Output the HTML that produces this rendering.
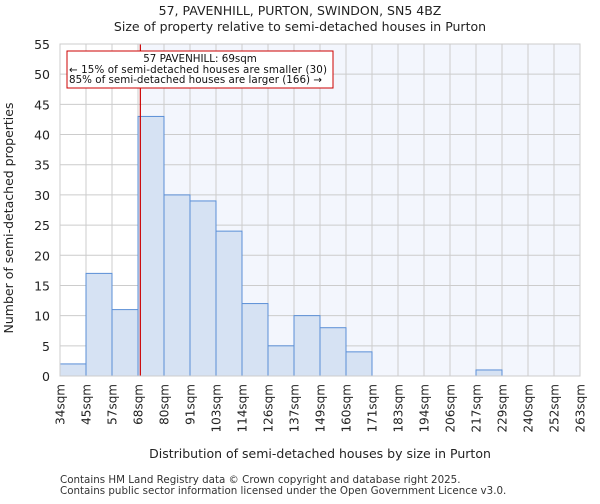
<!DOCTYPE html>
<html><head><meta charset="utf-8"><style>
body{margin:0;background:#fff;font-family:"DejaVu Sans","Liberation Sans",sans-serif}
</style></head><body>
<svg width="600" height="500" font-family="DejaVu Sans, Liberation Sans, sans-serif">
<g id="plot"></g>
</svg>
<script>
const labels=["34sqm","45sqm","57sqm","68sqm","80sqm","91sqm","103sqm","114sqm","126sqm","137sqm","149sqm","160sqm","171sqm","183sqm","194sqm","206sqm","217sqm","229sqm","240sqm","252sqm","263sqm"];
const counts=[2,17,11,43,30,29,24,12,5,10,8,4,0,0,0,0,1,0,0,0];
const yTicks=[0,5,10,15,20,25,30,35,40,45,50,55];
const propertyBin=3.09;
const L=60,R=580,T=44,B=376,yMax=55;
const bw=(R-L)/counts.length;
const x=i=>L+i*bw, y=v=>B-(v/yMax)*(B-T);
const svg=document.querySelector('svg');const NS='http://www.w3.org/2000/svg';
function mk(t,a,p){const e=document.createElementNS(NS,t);for(const k in a)e.setAttribute(k,a[k]);(p||svg).appendChild(e);return e;}
const px=x(propertyBin);
let e;
e=mk('rect',{x:px,y:T,width:R-px,height:B-T,fill:'#f3f6fd'});


yTicks.forEach(v=>{e=mk('line',{x1:L,x2:R,y1:y(v),y2:y(v),stroke:'#cccccc'});


e=mk('text',{x:L-10,y:y(v)+5,'text-anchor':'end','font-size':12.5,fill:'#222'});e.textContent=v;

});
labels.forEach((l,i)=>{e=mk('line',{x1:x(i),x2:x(i),y1:T,y2:B,stroke:'#cccccc'});


e=mk('text',{transform:`translate(${x(i)+4.5},384) rotate(-90)`,'text-anchor':'end','font-size':12,fill:'#222'});e.textContent=l;

});
counts.forEach((c,i)=>{if(!c)return;e=mk('rect',{x:x(i),y:y(c),width:bw,height:B-y(c),fill:'#d6e2f3',stroke:'#5b8fd6','stroke-width':1});

});
e=mk('line',{x1:px,x2:px,y1:T,y2:B,stroke:'#cc0000','stroke-width':1.2});


e=mk('rect',{x:67,y:51,width:266,height:37,fill:'#fff',stroke:'#cc0000'});


[["57 PAVENHILL: 69sqm",62],["← 15% of semi-detached houses are smaller (30)",73],["85% of semi-detached houses are larger (166) →",83]].forEach((t,k)=>{
e=mk('text',{x:k==0?200:69,y:t[1],'text-anchor':k==0?'middle':'start','font-size':10.3,fill:'#111',textLength:k==0?undefined:(k==1?258:253)});
if(k==0)e.removeAttribute('textLength');
e.textContent=t[0];

});
e=mk('rect',{x:L,y:T,width:R-L,height:B-T,fill:'none',stroke:'#cccccc'});


function txt(s,a,n){e=mk('text',a);e.textContent=s;}
txt("57, PAVENHILL, PURTON, SWINDON, SN5 4BZ",{x:300,y:15,'text-anchor':'middle','font-size':12.5,fill:'#222'},'chart-title');
txt("Size of property relative to semi-detached houses in Purton",{x:300,y:31,'text-anchor':'middle','font-size':12.5,fill:'#222'},'chart-subtitle');
txt("Distribution of semi-detached houses by size in Purton",{x:320,y:458,'text-anchor':'middle','font-size':12.5,fill:'#222'},'x-axis-title');
txt("Number of semi-detached properties",{transform:'translate(13,218) rotate(-90)','text-anchor':'middle','font-size':12.5,fill:'#222'},'y-axis-title');
txt("Contains HM Land Registry data © Crown copyright and database right 2025.",{x:60,y:483,'font-size':10.3,fill:'#333'},'footer-line-1');
txt("Contains public sector information licensed under the Open Government Licence v3.0.",{x:60,y:494,'font-size':10.3,fill:'#333'},'footer-line-2');
</script>
</body></html>
